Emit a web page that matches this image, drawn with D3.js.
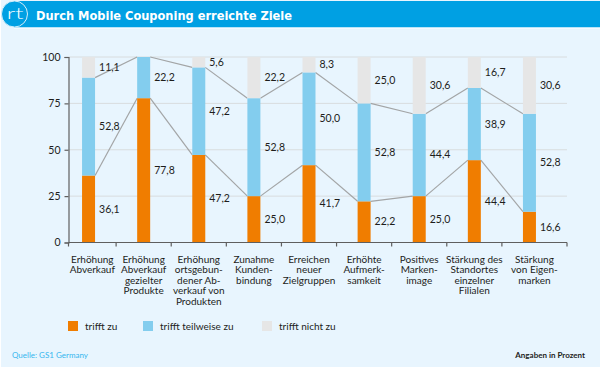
<!DOCTYPE html>
<html>
<head>
<meta charset="utf-8">
<script src="https://cdn.jsdelivr.net/npm/d3@7"></script>
<style>
    html, body { margin: 0; padding: 0; background: #fff; }
    svg { display: block; }
    text { font-family: Lato, "Open Sans", sans-serif; fill: #1d1d1b; }
</style>
</head>
<body>
<div id="chart"></div>
<script>
// chart data
let categories = [
    ["Erhöhung", "Abverkauf"],
    ["Erhöhung", "Abverkauf", "gezielter", "Produkte"],
    ["Erhöhung", "ortsgebun-", "dener Ab-", "verkauf von", "Produkten"],
    ["Zunahme", "Kunden-", "bindung"],
    ["Erreichen", "neuer", "Zielgruppen"],
    ["Erhöhte", "Aufmerk-", "samkeit"],
    ["Positives", "Marken-", "image"],
    ["Stärkung des", "Standortes", "einzelner", "Filialen"],
    ["Stärkung", "von Eigen-", "marken"]
];
let trifftZu = [36.1, 77.8, 47.2, 25.0, 41.7, 22.2, 25.0, 44.4, 16.6];
let trifftTeilweise = [52.8, 22.2, 47.2, 52.8, 50.0, 52.8, 44.4, 38.9, 52.8];
let trifftNicht = [11.1, 0, 5.6, 22.2, 8.3, 25.0, 30.6, 16.7, 30.6];
let seriesNames = ["trifft zu", "trifft teilweise zu", "trifft nicht zu"];
let seriesColors = ["#f07d00", "#83cdee", "#e6e6e6"];
let yTicks = [0, 25, 50, 75, 100];

let width = 600, height = 367;

let svg = d3.select("#chart").append("svg")
    .attr("width", width)
    .attr("height", height);

// background panel and header
svg.append("rect").attr("x", 1).attr("y", 0).attr("width", width - 1).attr("height", height).attr("fill", "#e8f5fe");
svg.append("rect").attr("x", 14).attr("y", 1).attr("width", width - 14).attr("height", 26.5).attr("fill", "#00a0e3");
svg.append("line").attr("x1", 14).attr("x2", width).attr("y1", 28).attr("y2", 28).attr("stroke", "#fff");
svg.append("circle").attr("cx", 14.5).attr("cy", 14).attr("r", 13).attr("fill", "#00a0e3").attr("stroke", "#d5eefa").attr("stroke-width", 1);
svg.append("text")
    .attr("transform", "translate(15, 19) scale(1.6, 1)")
    .attr("text-anchor", "middle")
    .style("font-size", "15px")
    .style("font-weight", 300)
    .style("fill", "#fff")
    .text("rt");
svg.append("text")
    .attr("x", 36).attr("y", 20)
    .style("font-family", "'DejaVu Sans', sans-serif")
    .style("font-stretch", "condensed")
    .style("font-size", "12.7px")
    .style("font-weight", "bold")
    .style("fill", "#fff")
    .text("Durch Mobile Couponing erreichte Ziele");

// scales
let x = d3.scaleBand()
    .domain(d3.range(categories.length))
    .range([61, 557]);
let y = d3.scaleLinear().domain([0, 100]).range([242.5, 57]);
let barWidth = 13;
let axisLeft = 68.5, axisRight = 567;

// grid
svg.append("g").selectAll("line")
    .data(yTicks.filter(d => d > 0))
    .enter().append("line")
    .attr("x1", axisLeft).attr("x2", axisRight)
    .attr("y1", d => y(d)).attr("y2", d => y(d))
    .attr("stroke", "#d8dcde")
    .attr("stroke-width", 1);

// connector lines between the bars
let tops = [trifftZu, trifftZu.map((d, i) => d + trifftTeilweise[i])];
tops.forEach(top => {
    svg.append("g").selectAll("line")
        .data(d3.pairs(d3.range(categories.length)))
        .enter().append("line")
        .attr("x1", d => x(d[0]) + x.bandwidth() / 2 + barWidth / 2)
        .attr("x2", d => x(d[1]) + x.bandwidth() / 2 - barWidth / 2)
        .attr("y1", d => y(top[d[0]]))
        .attr("y2", d => y(top[d[1]]))
        .attr("stroke", "#a3a5a6")
        .attr("stroke-width", 1.2);
});

// stacked bars
let rows = categories.map((c, i) => ({i: i, a: trifftZu[i], b: trifftTeilweise[i], c: trifftNicht[i]}));
let stack = d3.stack().keys(["a", "b", "c"])(rows);

let groups = svg.append("g").selectAll("g")
    .data(stack)
    .enter().append("g")
    .attr("fill", (d, i) => seriesColors[i]);

groups.selectAll("rect")
    .data(d => d)
    .enter().append("rect")
    .attr("x", d => x(d.data.i) + x.bandwidth() / 2 - barWidth / 2)
    .attr("width", barWidth)
    .attr("y", d => y(d[1]))
    .attr("height", d => y(d[0]) - y(d[1]));

// value labels
groups.selectAll("text")
    .data(d => d.filter(s => s[1] - s[0] > 0))
    .enter().append("text")
    .attr("x", d => x(d.data.i) + x.bandwidth() / 2 + barWidth / 2 + 4)
    .attr("y", d => y((d[0] + d[1]) / 2) + 3.5)
    .style("font-size", "10.5px")
    .text(d => (d[1] - d[0]).toFixed(1).replace(".", ","));

// y axis
let yAxis = svg.append("g")
    .attr("class", "axis axis--y")
    .attr("transform", `translate(${axisLeft}, 0)`)
    .call(d3.axisLeft(y).tickValues(yTicks).tickSize(4).tickPadding(4));
yAxis.selectAll("text").style("font-size", "10.5px").style("font-family", "Lato, sans-serif");

// x axis, ticks sit on the band edges
let xEdges = [axisLeft].concat(d3.range(1, categories.length).map(d => x(d)), [axisRight]);
let xAxis = svg.append("g").attr("class", "axis axis--x");
xAxis.append("line")
    .attr("x1", axisLeft).attr("x2", axisRight)
    .attr("y1", y(0)).attr("y2", y(0));
xAxis.selectAll(".tick")
    .data(xEdges)
    .enter().append("line")
    .attr("class", "tick")
    .attr("x1", d => d).attr("x2", d => d)
    .attr("y1", y(0)).attr("y2", y(0) + 4);
svg.selectAll(".axis line, .axis path")
    .attr("stroke", "#5f5f5f")
    .attr("stroke-width", 1.2);

// category labels, one text per line, centred between two ticks
categories.forEach((lines, i) => {
    svg.append("g").selectAll("text")
        .data(lines)
        .enter().append("text")
        .attr("text-anchor", "middle")
        .attr("x", (xEdges[i] + xEdges[i + 1]) / 2)
        .attr("y", (d, j) => 263 + j * 10.4)
        .style("font-size", "10px")
        .text(d => d);
});

// legend
let legendX = [68, 143, 262];
seriesNames.forEach((name, i) => {
    svg.append("rect")
        .attr("x", legendX[i]).attr("y", 321)
        .attr("width", 10).attr("height", 10)
        .attr("fill", seriesColors[i]);
    svg.append("text")
        .attr("x", legendX[i] + 17).attr("y", 330)
        .style("font-size", "10px")
        .text(name);
});

// footer
svg.append("text")
    .attr("x", 12).attr("y", 358)
    .style("font-size", "8px")
    .style("fill", "#35b5ee")
    .text("Quelle: GS1 Germany");
svg.append("text")
    .attr("x", 585).attr("y", 358)
    .attr("text-anchor", "end")
    .style("font-size", "8px")
    .style("font-weight", 700)
    .text("Angaben in Prozent");
</script>
</body>
</html>
